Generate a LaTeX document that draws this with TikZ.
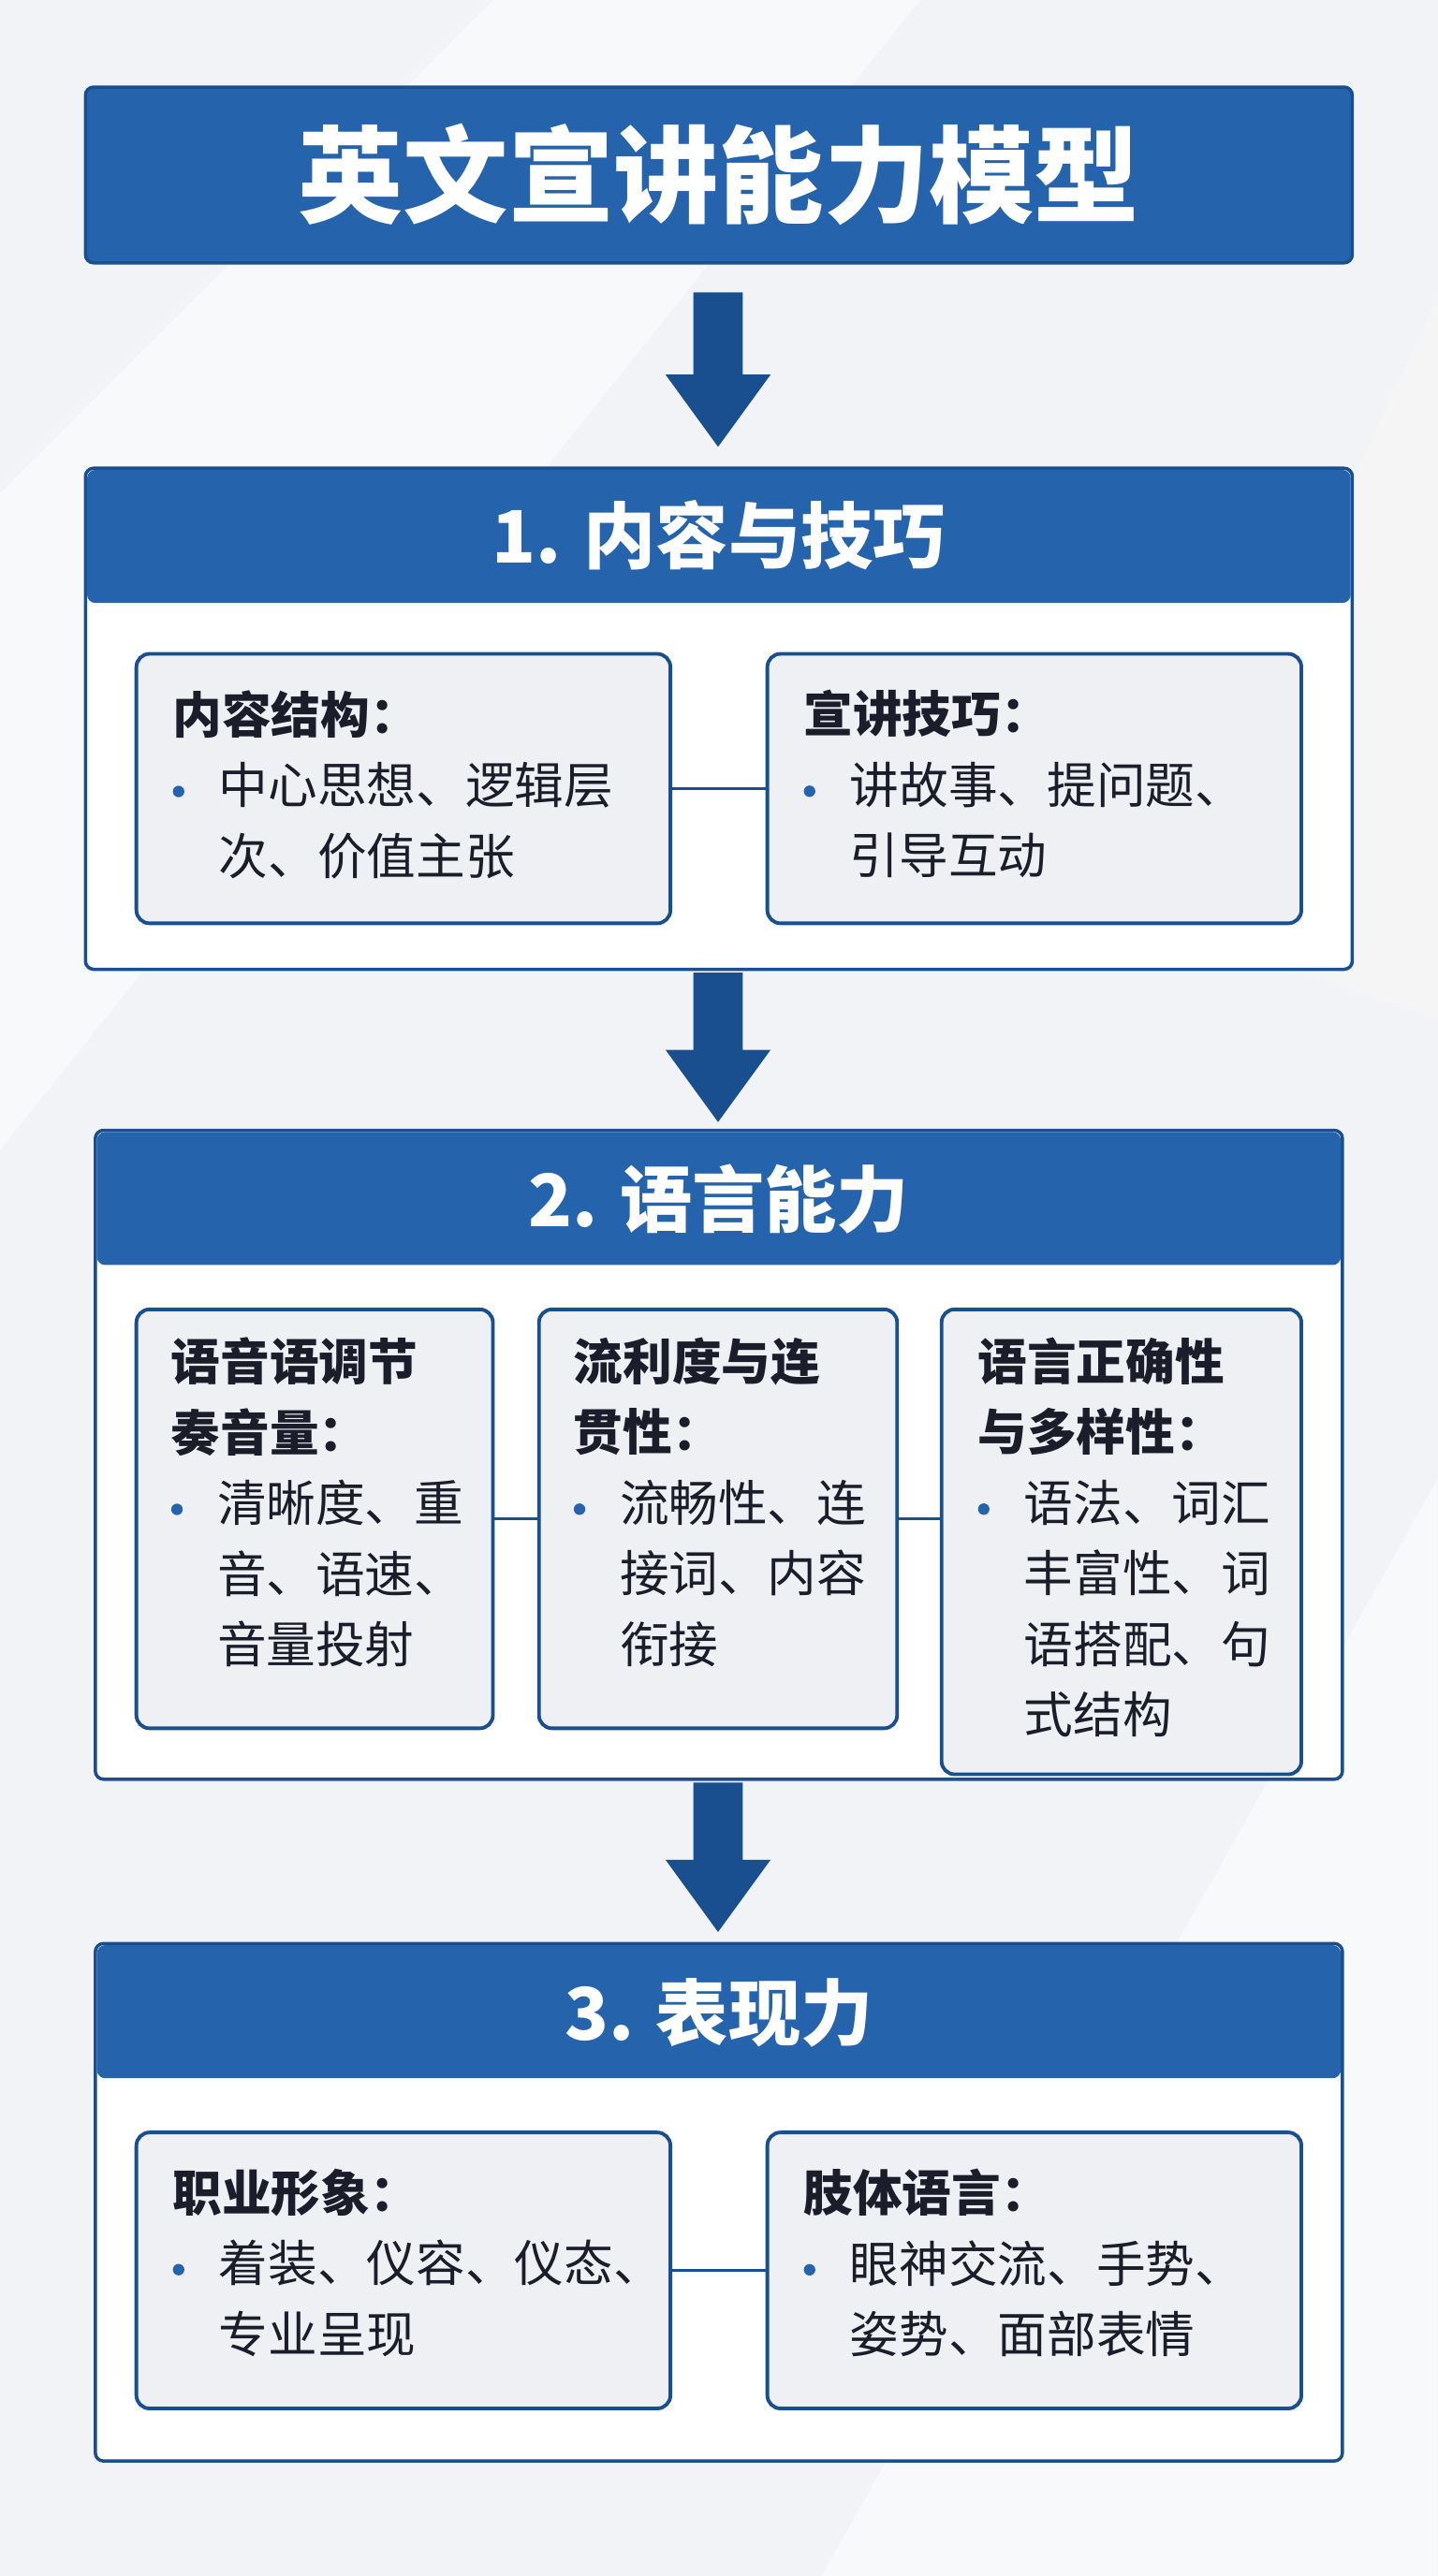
\documentclass[tikz,border=0pt]{standalone}
\usepackage{fontspec}
\setmainfont{Noto Sans CJK SC}
\definecolor{hb}{HTML}{2563AC}
\definecolor{hd}{HTML}{1A4F8F}
\definecolor{bg}{HTML}{F1F3F7}
\definecolor{bx}{HTML}{EEF0F4}
\definecolor{tx}{HTML}{1B1E2A}
\newcommand{\bul}{\makebox[28pt][l]{\textcolor{hb}{\raisebox{4pt}{\tikz\fill (0,0) circle (3.5pt);}}}}
\newcommand{\ind}{\hspace*{28pt}}
\begin{document}
\begin{tikzpicture}[x=1pt,y=-1pt,
 sec/.style={draw=hd,line width=2pt,fill=white,rounded corners=5pt},
 head/.style={fill=hb,draw=hd,line width=2pt,rounded corners=5pt},
 box/.style={draw=hd,line width=2.2pt,fill=bx,rounded corners=8pt},
 btxt/.style={anchor=north west,align=left,text=tx,font=\fontsize{30pt}{43pt}\selectfont,inner sep=0pt},
 htxt/.style={text=white,font=\fontsize{44pt}{50pt}\selectfont\bfseries},
 lnk/.style={draw=hd,line width=2pt},
 arr/.style={fill=hd,draw=none}]
\useasboundingbox (0,0) rectangle (875,1568);
\fill[bg] (0,0) rectangle (875,1568);
\fill[white,opacity=.5] (0,300) -- (300,0) -- (560,0) -- (0,700) -- cycle;
\fill[white,opacity=.5] (875,900) -- (500,1568) -- (875,1568) -- cycle;
\fill[black!4] (875,180) -- (700,560) -- (875,620) -- cycle;
% title
\node[head,minimum width=771,minimum height=107] (title) at (437.5,106.5) {};
\node[text=white,font=\fontsize{64pt}{70pt}\selectfont\bfseries] (tt) at (title) {英文宣讲能力模型};
% section 1
\node[sec,minimum width=771,minimum height=305] (s1) at (437.5,437.5) {};
\fill[hb,rounded corners=5pt] (53,286) rectangle (822,367);
\node[htxt] (h1) at (437.5,326) {1. 内容与技巧};
\node[box,minimum width=325,minimum height=164] (b1) at (245.5,480) {};
\node[box,minimum width=325,minimum height=164] (b2) at (629.5,480) {};
\draw[lnk] (b1) -- (b2);
\node[btxt] (t1) at (105,420) {\textbf{内容结构：}\\\bul 中心思想、逻辑层\\\ind 次、价值主张};
\node[btxt] (t2) at (489,420) {\textbf{宣讲技巧：}\\\bul 讲故事、提问题、\\\ind 引导互动};
% arrows
\foreach \n/\t/\b in {a0/178/272, a1/592/683, a2/1085/1176}{
  \fill[arr] (422,\t) -- (452,\t) -- (452,\b-44) -- (469,\b-44) -- (437,\b) -- (405,\b-44) -- (422,\b-44) -- cycle;
}
% section 2
\node[sec,minimum width=759,minimum height=395] (s2) at (437.5,885.5) {};
\fill[hb,rounded corners=5pt] (59,689) rectangle (816,770);
\node[htxt] (h2) at (437.5,730) {2. 语言能力};
\node[box,minimum width=217,minimum height=255] (b3) at (191.5,924.5) {};
\node[box,minimum width=218,minimum height=255] (b4) at (437,924.5) {};
\node[box,minimum width=219,minimum height=283] (b5) at (682.5,938.5) {};
\draw[lnk] (b3) -- (b4);
\draw[lnk] (b4.east) -- (b4.east -| b5.west);
\node[btxt] (t3) at (104,814) {\textbf{语音语调节}\\\textbf{奏音量：}\\\bul 清晰度、重\\\ind 音、语速、\\\ind 音量投射};
\node[btxt] (t4) at (349,814) {\textbf{流利度与连}\\\textbf{贯性：}\\\bul 流畅性、连\\\ind 接词、内容\\\ind 衔接};
\node[btxt] (t5) at (595,814) {\textbf{语言正确性}\\\textbf{与多样性：}\\\bul 语法、词汇\\\ind 丰富性、词\\\ind 语搭配、句\\\ind 式结构};
% section 3
\node[sec,minimum width=759,minimum height=315] (s3) at (437.5,1340.5) {};
\fill[hb,rounded corners=5pt] (59,1184) rectangle (816,1265);
\node[htxt] (h3) at (437.5,1225) {3. 表现力};
\node[box,minimum width=325,minimum height=168] (b6) at (245.5,1382) {};
\node[box,minimum width=325,minimum height=168] (b7) at (629.5,1382) {};
\draw[lnk] (b6) -- (b7);
\node[btxt] (t6) at (105,1320) {\textbf{职业形象：}\\\bul 着装、仪容、仪态、\\\ind 专业呈现};
\node[btxt] (t7) at (489,1320) {\textbf{肢体语言：}\\\bul 眼神交流、手势、\\\ind 姿势、面部表情};
\end{tikzpicture}
\end{document}
